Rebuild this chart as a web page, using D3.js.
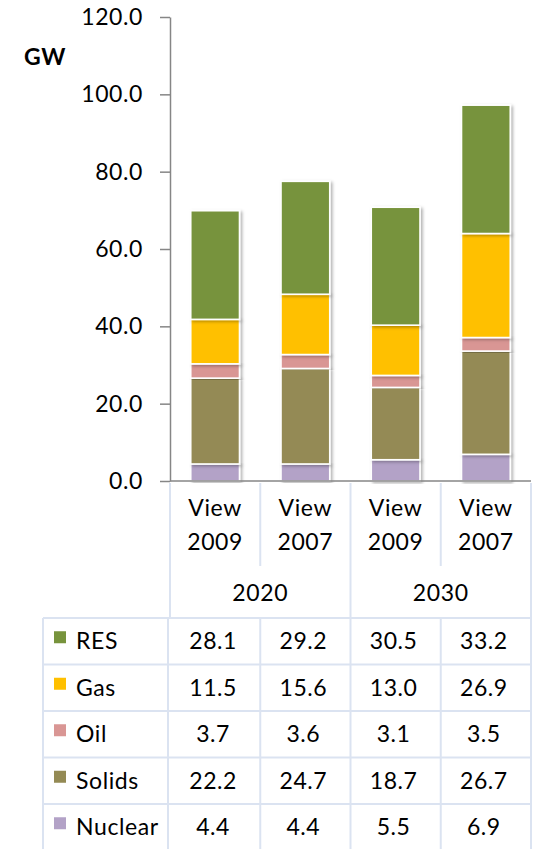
<!DOCTYPE html>
<html>
<head>
<meta charset="utf-8">
<script src="https://cdn.jsdelivr.net/npm/d3@7"></script>
<style>
  body { margin: 0; background: #fff; }
  text { font-family: Lato, "Open Sans", sans-serif; fill: #000; letter-spacing: 0.6px; }
</style>
</head>
<body>
<div id="chart"></div>
<script>
// data
const scenarios = ['View 2009 (2020)', 'View 2007 (2020)', 'View 2009 (2030)', 'View 2007 (2030)'];
const viewLabels = [['View', '2009'], ['View', '2007'], ['View', '2009'], ['View', '2007']];
const years = ['2020', '2030'];
const seriesNames = ['Nuclear', 'Solids', 'Oil', 'Gas', 'RES'];
const colors = ['#b3a2c7', '#948a54', '#d99694', '#ffc000', '#77933c'];
const nuclear = [4.4, 4.4, 5.5, 6.9];
const solids = [22.2, 24.7, 18.7, 26.7];
const oil = [3.7, 3.6, 3.1, 3.5];
const gas = [11.5, 15.6, 13.0, 26.9];
const res = [28.1, 29.2, 30.5, 33.2];
const yTicks = [0, 20, 40, 60, 80, 100, 120];

const W = 534, H = 849;
const svg = d3.select('#chart').append('svg')
    .attr('width', W)
    .attr('height', H);

const defs = svg.append('defs');
defs.append('filter').attr('id', 'shadow')
    .attr('x', '-20%').attr('y', '-5%').attr('width', '150%').attr('height', '115%')
    .append('feDropShadow')
    .attr('dx', 2).attr('dy', 1.5).attr('stdDeviation', 1.8)
    .attr('flood-color', '#000').attr('flood-opacity', 0.3);

const seriesVals = [nuclear, solids, oil, gas, res];
const rows = scenarios.map((s, i) => {
    const r = { scenario: s };
    seriesNames.forEach((n, k) => { r[n] = seriesVals[k][i]; });
    return r;
});

const x = d3.scaleBand()
    .domain(scenarios)
    .range([170, 531])
    .padding(0);

const y = d3.scaleLinear()
    .domain([0, 120])
    .range([481, 17]);

const color = d3.scaleOrdinal().domain(seriesNames).range(colors);

const stack = d3.stack().keys(seriesNames)(rows);

const barW = x.bandwidth() * 0.54;

// bars
svg.append('g')
    .selectAll('g')
    .data(stack)
    .join('g')
    .attr('fill', d => color(d.key))
    .selectAll('rect')
    .data(d => d)
    .join('rect')
    .attr('x', d => x(d.data.scenario) + (x.bandwidth() - barW) / 2)
    .attr('y', d => y(d[1]))
    .attr('width', barW)
    .attr('height', d => y(d[0]) - y(d[1]))
    .attr('stroke', '#fff')
    .attr('stroke-width', 1.6)
    .attr('filter', 'url(#shadow)');

// y axis
const yAxis = svg.append('g')
    .attr('transform', 'translate(170,0)')
    .call(d3.axisLeft(y)
        .tickValues(yTicks)
        .tickFormat(d3.format('.1f'))
        .tickSize(10)
        .tickSizeOuter(0)
        .tickPadding(17));
yAxis.select('.domain').attr('stroke', '#868686').attr('stroke-width', 1.5);
yAxis.selectAll('.tick line').attr('stroke', '#868686').attr('stroke-width', 1.5);
yAxis.selectAll('.tick text')
    .style('font-family', 'Lato, sans-serif')
    .style('font-size', '23px')
    .attr('fill', '#000');

svg.append('text')
    .attr('x', 24)
    .attr('y', 65)
    .style('font-size', '23px')
    .style('font-weight', 'bold')
    .text('GW');

// table grid
const gridColor = '#dbe3f1';
const grid = svg.append('g')
    .attr('stroke', gridColor)
    .attr('stroke-width', 2)
    .attr('fill', 'none');

const headTop = 483, headMid = 566, headBot = 618;
const rowH = 46.5;
const tableLeft = 43;
const xEdges = scenarios.map(s => x(s)).concat([x.range()[1]]);

// header verticals
xEdges.forEach((xe, i) => {
    const full = (i % 2 === 0);
    grid.append('line')
        .attr('x1', xe).attr('x2', xe)
        .attr('y1', headTop)
        .attr('y2', full ? headBot : headMid);
});
grid.append('line')
    .attr('x1', x.range()[0]).attr('x2', x.range()[1])
    .attr('y1', headBot).attr('y2', headBot);

// body rows
const bodyTop = headBot;
const bodyRows = seriesNames.slice().reverse();
bodyRows.forEach((n, r) => {
    grid.append('line')
        .attr('x1', tableLeft).attr('x2', x.range()[1])
        .attr('y1', bodyTop + r * rowH).attr('y2', bodyTop + r * rowH);
});
grid.append('line')
    .attr('x1', tableLeft).attr('x2', x.range()[1])
    .attr('y1', bodyTop + bodyRows.length * rowH).attr('y2', bodyTop + bodyRows.length * rowH);
[tableLeft, 168].concat(xEdges.slice(1)).forEach(xe => {
    grid.append('line')
        .attr('x1', xe).attr('x2', xe)
        .attr('y1', bodyTop).attr('y2', H + 5);
});

// x axis line
svg.append('line')
    .attr('x1', 170).attr('x2', 531)
    .attr('y1', 481).attr('y2', 481)
    .attr('stroke', '#868686')
    .attr('stroke-width', 1.5);

// header labels
const head = svg.append('g').style('font-size', '23px').attr('text-anchor', 'middle');
scenarios.forEach((s, i) => {
    const cx = x(s) + x.bandwidth() / 2;
    head.append('text').attr('x', cx).attr('y', 516).text(viewLabels[i][0]);
    head.append('text').attr('x', cx).attr('y', 550).text(viewLabels[i][1]);
});
years.forEach((yr, i) => {
    const cx = x(scenarios[i * 2]) + x.bandwidth();
    head.append('text').attr('x', cx).attr('y', 601).text(yr);
});

// body labels
const body = svg.append('g').style('font-size', '23px');
bodyRows.forEach((n, r) => {
    const cy = bodyTop + r * rowH + rowH / 2;
    body.append('rect')
        .attr('x', 54).attr('y', cy - 10)
        .attr('width', 12).attr('height', 12)
        .attr('fill', color(n));
    body.append('text')
        .attr('x', 76).attr('y', cy + 8)
        .text(n);
    seriesVals[seriesNames.indexOf(n)].forEach((v, i) => {
        body.append('text')
            .attr('x', x(scenarios[i]) + x.bandwidth() / 2 - 2)
            .attr('y', cy + 8)
            .attr('text-anchor', 'middle')
            .text(d3.format('.1f')(v));
    });
});
</script>
</body>
</html>
